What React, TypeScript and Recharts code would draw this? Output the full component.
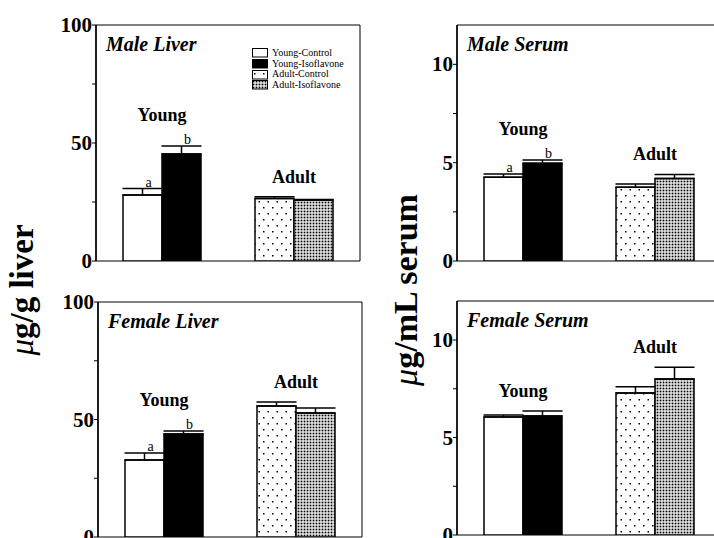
import React from 'react';
import {
    BarChart,
    Bar,
    XAxis,
    YAxis,
    ErrorBar,
    Cell,
    LabelList,
    ReferenceArea,
    Legend
} from 'recharts';

const SERIF = '"Liberation Serif", "Times New Roman", serif';

const GROUPS = ['Young', 'Adult'];
const LEGEND_LABELS = ['Young-Control', 'Young-Isoflavone', 'Adult-Control', 'Adult-Isoflavone'];

// liver, ug/g
const MALE_LIVER_CONTROL = [28, 26.5];
const MALE_LIVER_CONTROL_SEM = [2.7, 0.7];
const MALE_LIVER_ISO = [45.3, 25.8];
const MALE_LIVER_ISO_SEM = [3.4, 0.3];
const MALE_LIVER_LETTERS_CONTROL = ['a', ''];
const MALE_LIVER_LETTERS_ISO = ['b', ''];

const FEMALE_LIVER_CONTROL = [32.8, 55.7];
const FEMALE_LIVER_CONTROL_SEM = [2.9, 1.7];
const FEMALE_LIVER_ISO = [43.8, 52.8];
const FEMALE_LIVER_ISO_SEM = [1.3, 2.1];
const FEMALE_LIVER_LETTERS_CONTROL = ['a', ''];
const FEMALE_LIVER_LETTERS_ISO = ['b', ''];

// serum, ug/mL
const MALE_SERUM_CONTROL = [4.26, 3.75];
const MALE_SERUM_CONTROL_SEM = [0.16, 0.17];
const MALE_SERUM_ISO = [4.97, 4.2];
const MALE_SERUM_ISO_SEM = [0.16, 0.2];
const MALE_SERUM_LETTERS_CONTROL = ['a', ''];
const MALE_SERUM_LETTERS_ISO = ['b', ''];

const FEMALE_SERUM_CONTROL = [6.05, 7.28];
const FEMALE_SERUM_CONTROL_SEM = [0.1, 0.32];
const FEMALE_SERUM_ISO = [6.1, 8.0];
const FEMALE_SERUM_ISO_SEM = [0.26, 0.6];
const FEMALE_SERUM_LETTERS_CONTROL = ['', ''];
const FEMALE_SERUM_LETTERS_ISO = ['', ''];

const LIVER_TICKS = [0, 25, 50, 75, 100];
const LIVER_TICK_LABELS = [0, 50, 100];
const LIVER_MAX = 100;
const SERUM_TICKS = [0, 2.5, 5, 7.5, 10];
const SERUM_TICK_LABELS = [0, 5, 10];
const SERUM_MAX = 12;

const CONTROL_FILLS = ['#fff', 'url(#adultControlDots)'];
const ISO_FILLS = ['#000', 'url(#adultIsoDots)'];
const LEGEND_FILLS = ['#fff', '#000', 'url(#adultControlDots)', 'url(#adultIsoDots)'];

const buildRows = (ctrl: number[], ctrlSem: number[], iso: number[], isoSem: number[], ctrlLetters: string[], isoLetters: string[]) =>
    GROUPS.map((g, i) => ({
        group: g,
        control: ctrl[i],
        controlErr: [0, ctrlSem[i]],
        controlLetter: ctrlLetters[i],
        iso: iso[i],
        isoErr: [0, isoSem[i]],
        isoLetter: isoLetters[i]
    }));

const getBox = (props: any) => {
    const vb = props.viewBox || props;
    return { x: Number(vb.x), y: Number(vb.y), width: Number(vb.width), height: Number(vb.height) };
};

// small significance letter just above the error cap
const letterRenderer = (values: number[], sems: number[], letters: string[]) => (props: any) => {
    const i = props.index;
    const letter = letters[i];
    if (!letter) return <g />;
    const b = getBox(props);
    const pxPerUnit = b.height / values[i];
    const capY = b.y - sems[i] * pxPerUnit;
    return (
        <text x={b.x + b.width / 2 + 6} y={capY - 2} textAnchor="middle" fontSize={14} fontFamily={SERIF} fill="#000">
            {letter}
        </text>
    );
};

// "Young"/"Adult" over each pair, drawn from the iso bar (left edge = pair centre)
const groupRenderer = (ctrl: number[], ctrlSem: number[], iso: number[], isoSem: number[], ctrlLetters: string[], isoLetters: string[]) => (props: any) => {
    const i = props.index;
    const b = getBox(props);
    const pxPerUnit = b.height / iso[i];
    const bottom = b.y + b.height;
    const top = Math.max(ctrl[i] + ctrlSem[i], iso[i] + isoSem[i]);
    const hasLetters = !!(ctrlLetters[i] || isoLetters[i]);
    const y = bottom - top * pxPerUnit - (hasLetters ? 25 : 14);
    return (
        <text x={b.x} y={y} textAnchor="middle" fontSize={18} fontWeight="bold" fontFamily={SERIF} fill="#000">
            {GROUPS[i]}
        </text>
    );
};

const tickRenderer = (labels: number[]) => (props: any) => {
    const { x, y, payload } = props;
    if (!labels.includes(payload.value)) return <g />;
    return (
        <text x={x} y={y} dy={7} textAnchor="end" fontSize={21} fontWeight="bold" fontFamily={SERIF} fill="#000">
            {payload.value}
        </text>
    );
};

const renderLegend = () => (
    <div style={{ fontFamily: SERIF, fontSize: 10, lineHeight: '10.7px', color: '#000' }}>
        {LEGEND_LABELS.map((label, i) => (
            <div key={label} style={{ display: 'flex', alignItems: 'center', height: 10.7 }}>
                <svg width={17} height={10} style={{ marginRight: 3 }}>
                    <rect x={0.5} y={0.5} width={15} height={8.5} fill={LEGEND_FILLS[i]} stroke="#000" strokeWidth={1} />
                </svg>
                <span>{label}</span>
            </div>
        ))}
    </div>
);

type PanelProps = {
    title: string;
    ctrl: number[];
    ctrlSem: number[];
    iso: number[];
    isoSem: number[];
    ctrlLetters: string[];
    isoLetters: string[];
    max: number;
    ticks: number[];
    tickLabels: number[];
    left: number;
    top: number;
    width: number;
    height: number;
    axisWidth: number;
    margin: { top: number; right: number; bottom: number; left: number };
    legend?: boolean;
};

const Panel: React.FC<PanelProps> = (p) => {
    const data = buildRows(p.ctrl, p.ctrlSem, p.iso, p.isoSem, p.ctrlLetters, p.isoLetters);
    return (
        <div style={{ position: 'absolute', left: p.left, top: p.top }}>
            <BarChart width={p.width} height={p.height} data={data} margin={p.margin} barGap={0} barSize={39}>
                <defs>
                    <pattern id="adultControlDots" width="9" height="12" patternUnits="userSpaceOnUse">
                        <rect width="9" height="12" fill="#fff" />
                        <rect x="2" y="3" width="1.5" height="1.5" fill="#000" />
                        <rect x="6.5" y="9" width="1.5" height="1.5" fill="#000" />
                    </pattern>
                    <pattern id="adultIsoDots" width="3" height="3" patternUnits="userSpaceOnUse">
                        <rect width="3" height="3" fill="#fff" />
                        <rect x="0.6" y="0.6" width="1.8" height="1.8" fill="#000" />
                    </pattern>
                </defs>
                <XAxis dataKey="group" hide />
                <YAxis
                    type="number"
                    domain={[0, p.max]}
                    ticks={p.ticks}
                    interval={0}
                    width={p.axisWidth}
                    tickSize={4}
                    tickMargin={0}
                    tick={tickRenderer(p.tickLabels)}
                    axisLine={{ stroke: '#000', strokeWidth: 1.5 }}
                    tickLine={{ stroke: '#000', strokeWidth: 1 }}
                    allowDataOverflow
                />
                <ReferenceArea
                    y1={0}
                    y2={p.max}
                    fill="none"
                    stroke="#000"
                    strokeWidth={1}
                    label={{
                        content: (lp: any) => {
                            const b = getBox(lp);
                            return (
                                <text x={b.x + 10} y={b.y + 26} fontSize={20} fontWeight="bold" fontStyle="italic" fontFamily={SERIF} fill="#000">
                                    {p.title}
                                </text>
                            );
                        }
                    }}
                />
                {p.legend && (
                    <Legend
                        layout="horizontal"
                        verticalAlign="middle"
                        align="center"
                        content={renderLegend}
                        wrapperStyle={{ left: 252, top: 48, width: 'auto', height: 'auto' }}
                    />
                )}
                <Bar dataKey="control" stroke="#000" strokeWidth={1.5} isAnimationActive={false}>
                    {data.map((d, i) => (
                        <Cell key={d.group} fill={CONTROL_FILLS[i]} />
                    ))}
                    <ErrorBar dataKey="controlErr" width={20} stroke="#000" strokeWidth={1.5} direction="y" isAnimationActive={false} />
                    <LabelList dataKey="controlLetter" content={letterRenderer(p.ctrl, p.ctrlSem, p.ctrlLetters)} />
                </Bar>
                <Bar dataKey="iso" stroke="#000" strokeWidth={1.5} isAnimationActive={false}>
                    {data.map((d, i) => (
                        <Cell key={d.group} fill={ISO_FILLS[i]} />
                    ))}
                    <ErrorBar dataKey="isoErr" width={20} stroke="#000" strokeWidth={1.5} direction="y" isAnimationActive={false} />
                    <LabelList dataKey="isoLetter" content={letterRenderer(p.iso, p.isoSem, p.isoLetters)} />
                    <LabelList dataKey="group" content={groupRenderer(p.ctrl, p.ctrlSem, p.iso, p.isoSem, p.ctrlLetters, p.isoLetters)} />
                </Bar>
            </BarChart>
        </div>
    );
};

export default function App() {
    return (
        <div style={{ position: 'absolute', left: 0, top: 0, width: 714, height: 538, overflow: 'hidden', background: '#fff' }}>
            <Panel
                title="Male Liver"
                ctrl={MALE_LIVER_CONTROL} ctrlSem={MALE_LIVER_CONTROL_SEM}
                iso={MALE_LIVER_ISO} isoSem={MALE_LIVER_ISO_SEM}
                ctrlLetters={MALE_LIVER_LETTERS_CONTROL} isoLetters={MALE_LIVER_LETTERS_ISO}
                max={LIVER_MAX} ticks={LIVER_TICKS} tickLabels={LIVER_TICK_LABELS}
                left={0} top={0} width={362} height={278} axisWidth={96}
                margin={{ top: 25, right: 2, bottom: 17, left: 0 }}
                legend
            />
            <Panel
                title="Male Serum"
                ctrl={MALE_SERUM_CONTROL} ctrlSem={MALE_SERUM_CONTROL_SEM}
                iso={MALE_SERUM_ISO} isoSem={MALE_SERUM_ISO_SEM}
                ctrlLetters={MALE_SERUM_LETTERS_CONTROL} isoLetters={MALE_SERUM_LETTERS_ISO}
                max={SERUM_MAX} ticks={SERUM_TICKS} tickLabels={SERUM_TICK_LABELS}
                left={362} top={0} width={362} height={278} axisWidth={95}
                margin={{ top: 25, right: 3, bottom: 17, left: 0 }}
            />
            <Panel
                title="Female Liver"
                ctrl={FEMALE_LIVER_CONTROL} ctrlSem={FEMALE_LIVER_CONTROL_SEM}
                iso={FEMALE_LIVER_ISO} isoSem={FEMALE_LIVER_ISO_SEM}
                ctrlLetters={FEMALE_LIVER_LETTERS_CONTROL} isoLetters={FEMALE_LIVER_LETTERS_ISO}
                max={LIVER_MAX} ticks={LIVER_TICKS} tickLabels={LIVER_TICK_LABELS}
                left={0} top={270} width={364} height={268} axisWidth={98}
                margin={{ top: 32, right: 2, bottom: 1, left: 0 }}
            />
            <Panel
                title="Female Serum"
                ctrl={FEMALE_SERUM_CONTROL} ctrlSem={FEMALE_SERUM_CONTROL_SEM}
                iso={FEMALE_SERUM_ISO} isoSem={FEMALE_SERUM_ISO_SEM}
                ctrlLetters={FEMALE_SERUM_LETTERS_CONTROL} isoLetters={FEMALE_SERUM_LETTERS_ISO}
                max={SERUM_MAX} ticks={SERUM_TICKS} tickLabels={SERUM_TICK_LABELS}
                left={362} top={270} width={362} height={268} axisWidth={95}
                margin={{ top: 31, right: 3, bottom: 3, left: 0 }}
            />
            <svg width={714} height={538} style={{ position: 'absolute', left: 0, top: 0, pointerEvents: 'none' }}>
                <text transform="translate(33, 290) rotate(-90)" textAnchor="middle" fontSize={33} fontWeight="bold" fontFamily={SERIF} fill="#000">
                    <tspan fontStyle="italic" fontWeight="normal">μ</tspan>g/g liver
                </text>
                <text transform="translate(417, 290) rotate(-90)" textAnchor="middle" fontSize={34} fontWeight="bold" fontFamily={SERIF} fill="#000">
                    <tspan fontStyle="italic" fontWeight="normal">μ</tspan>g/mL serum
                </text>
            </svg>
        </div>
    );
}
